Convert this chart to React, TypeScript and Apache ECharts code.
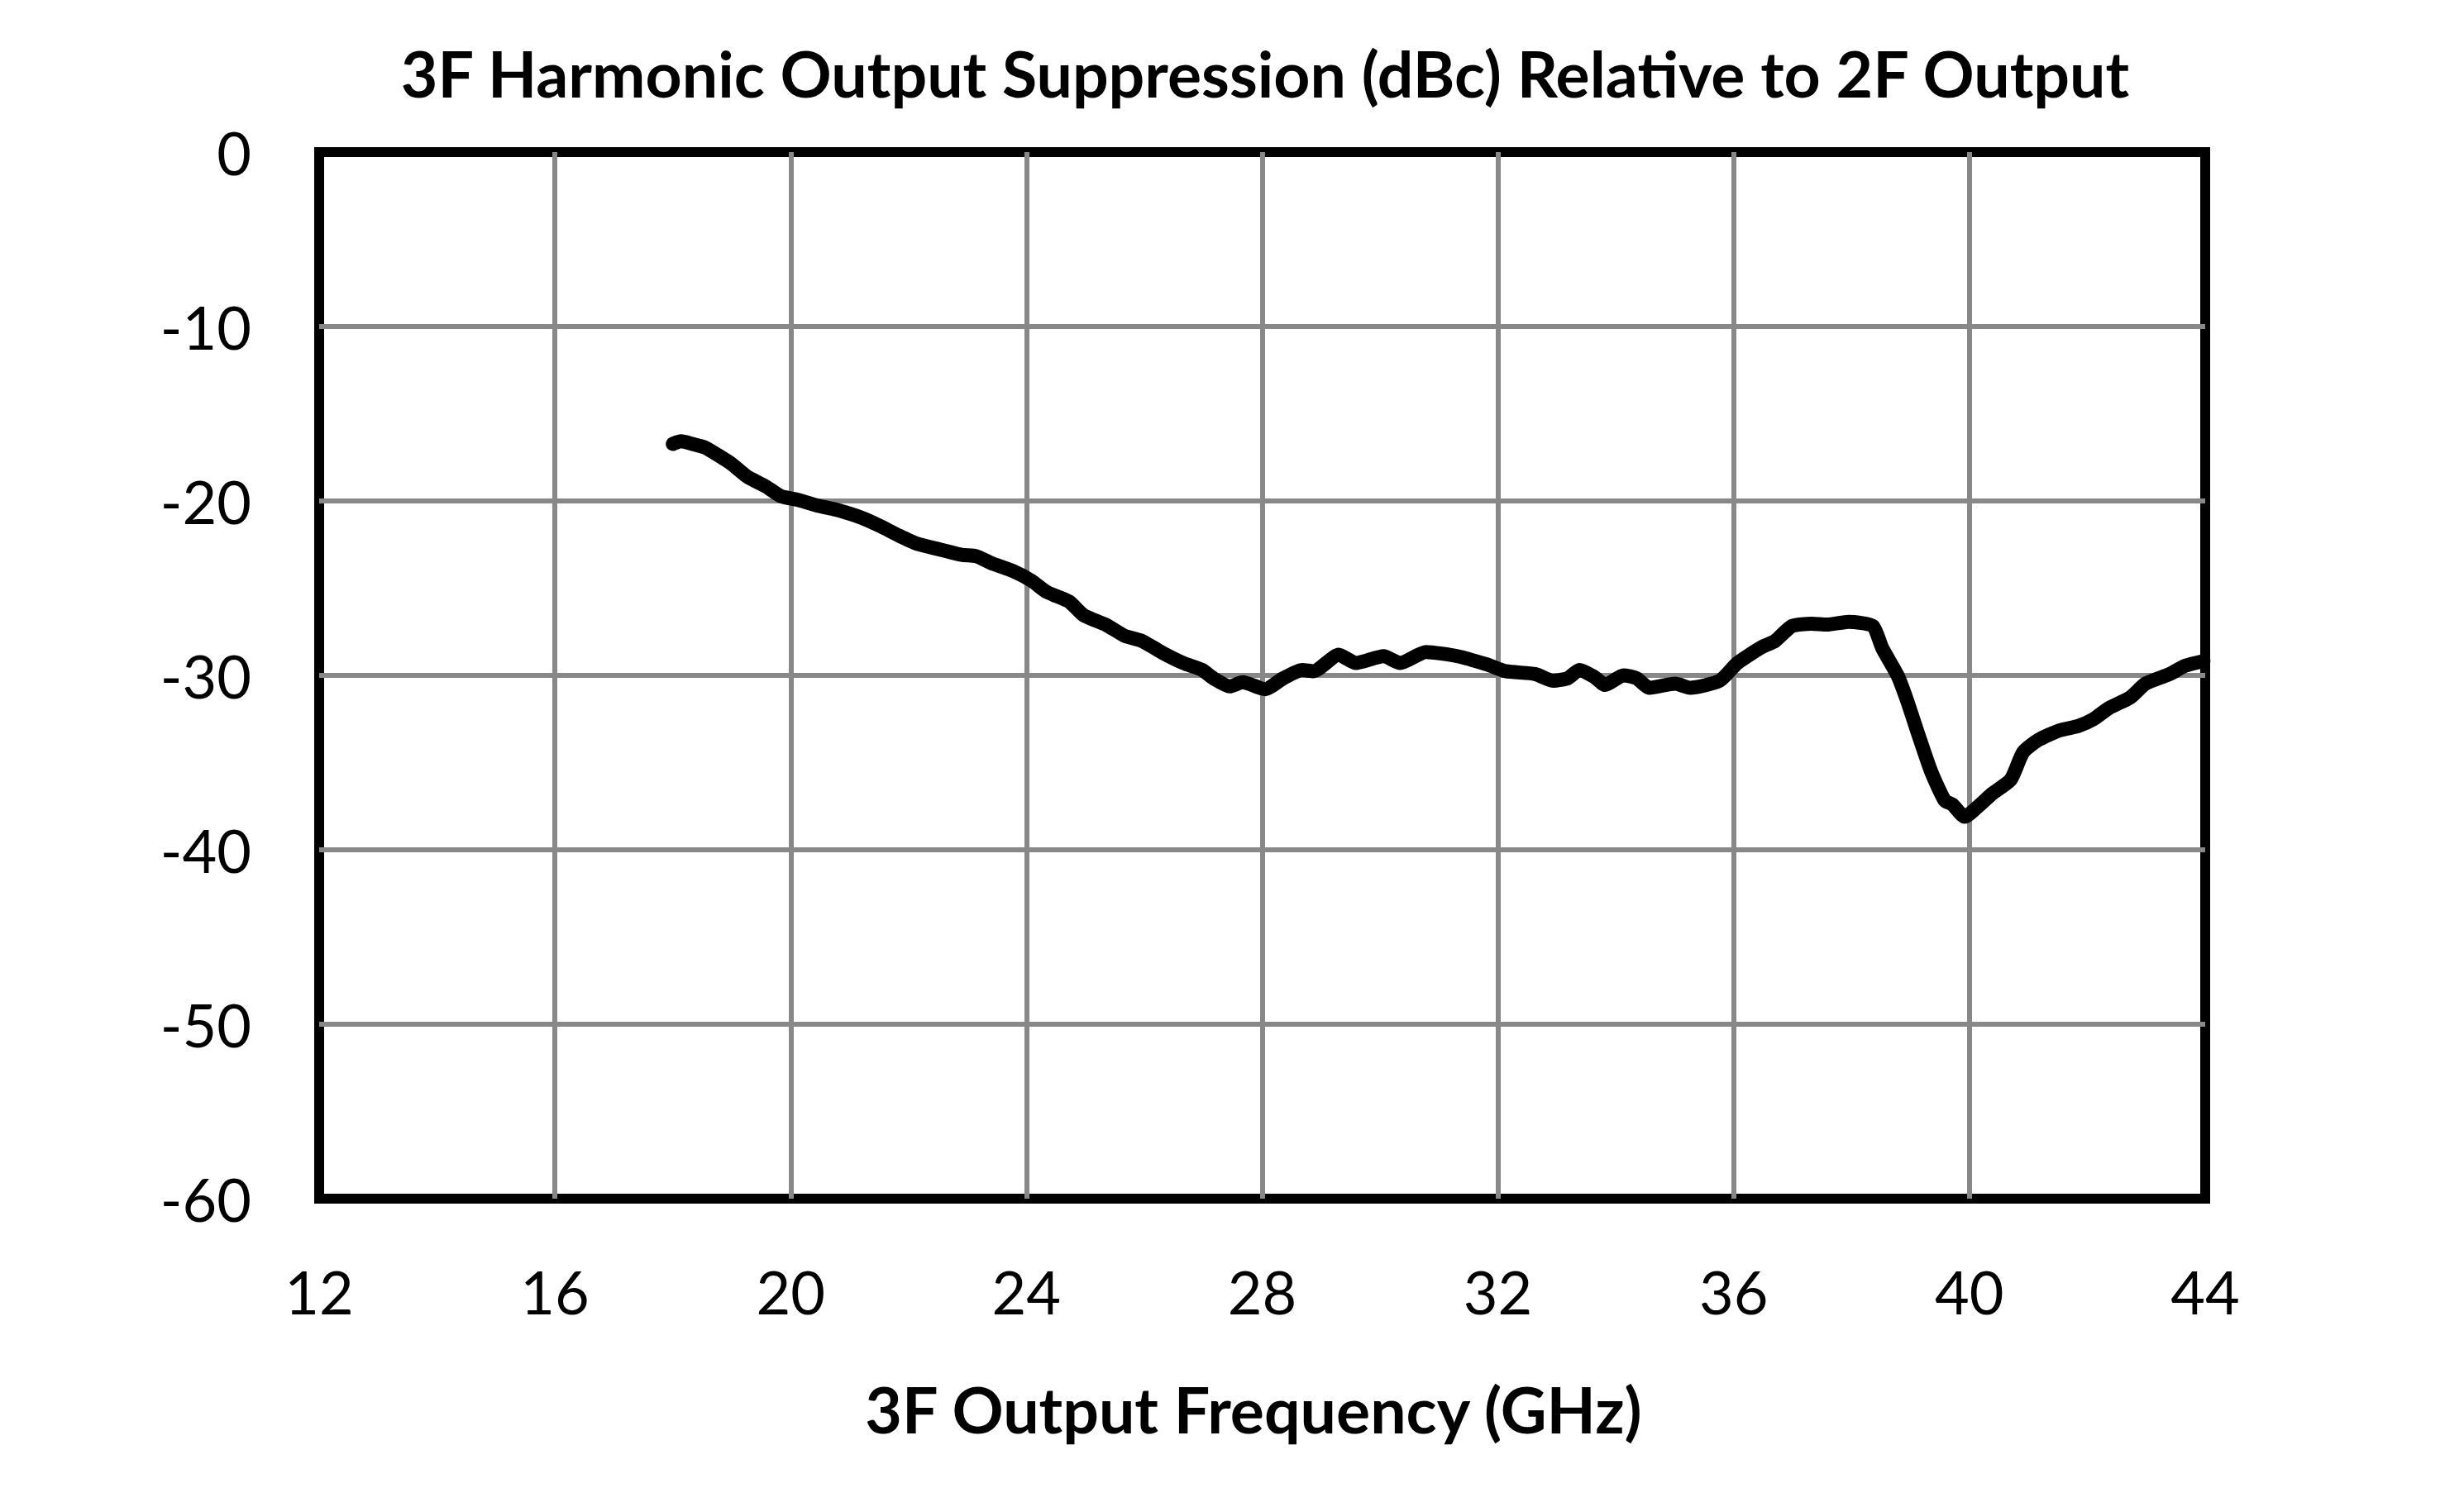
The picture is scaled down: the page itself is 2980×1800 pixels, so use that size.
import { useEffect, useRef } from 'react'
import * as echarts from 'echarts'

// 3F output frequency (GHz)
const freq = [
  18.0, 18.14, 18.33, 18.55, 18.76, 19.0, 19.27, 19.58, 19.83, 20.14,
  20.46, 20.77, 21.21, 21.52, 21.84, 22.15, 22.53, 22.9, 23.15, 23.4,
  23.78, 24.09, 24.34, 24.72, 24.97, 25.35, 25.66, 25.97, 26.29, 26.66,
  26.98, 27.17, 27.45, 27.67, 28.05, 28.36, 28.68, 28.87, 29.3, 29.59,
  30.06, 30.34, 30.78, 31.31, 31.81, 32.13, 32.63, 32.94, 33.19, 33.38,
  33.63, 33.82, 34.13, 34.35, 34.57, 35.01, 35.26, 35.76, 36.05, 36.23,
  36.49, 36.7, 36.99, 37.32, 37.58, 37.95, 38.36, 38.52, 38.78, 38.94,
  39.14, 39.35, 39.58, 39.71, 39.92, 40.13, 40.39, 40.7, 40.91, 41.17,
  41.53, 41.84, 42.1, 42.36, 42.73, 42.99, 43.4, 43.66, 43.97
]

// 3F suppression relative to 2F (dBc)
const suppression = [
  -16.73, -16.58, -16.73, -16.94, -17.36, -17.88, -18.62, -19.17, -19.72, -19.95,
  -20.27, -20.5, -20.97, -21.44, -21.99, -22.46, -22.78, -23.09, -23.17, -23.56,
  -24.03, -24.58, -25.21, -25.76, -26.55, -27.1, -27.72, -28.04, -28.67, -29.29,
  -29.69, -30.16, -30.63, -30.39, -30.79, -30.16, -29.69, -29.76, -28.82, -29.29,
  -28.9, -29.29, -28.66, -28.9, -29.37, -29.76, -29.92, -30.31, -30.16, -29.69,
  -30.08, -30.55, -30.0, -30.16, -30.71, -30.47, -30.71, -30.31, -29.33, -28.9,
  -28.35, -28.03, -27.17, -27.04, -27.09, -26.93, -27.17, -28.43, -30.0, -31.42,
  -33.46, -35.51, -37.17, -37.4, -38.11, -37.56, -36.77, -35.98, -34.41, -33.7,
  -33.15, -32.91, -32.52, -31.89, -31.26, -30.47, -29.92, -29.45, -29.18
]

const chartTitle = '3F Harmonic Output Suppression (dBc) Relative to 2F Output'
const xTitle = '3F Output Frequency (GHz)'

const FONT = 'Lato, "Noto Sans", sans-serif'

export default function App() {
  const chartRef = useRef<HTMLDivElement>(null)

  useEffect(() => {
    if (!chartRef.current) return
    document.body.style.margin = '0'

    const chart = echarts.init(chartRef.current, null, { renderer: 'svg' })

    const option: echarts.EChartsOption = {
      animation: false,
      backgroundColor: '#ffffff',
      grid: {
        left: 386,
        right: 313,
        top: 184,
        bottom: 350,
        show: true,
        borderColor: '#000000',
        borderWidth: 12,
        backgroundColor: 'transparent'
      },
      graphic: [
        {
          type: 'text',
          x: 1530,
          y: 88,
          z: 10,
          style: {
            text: chartTitle,
            font: `bold 77px ${FONT}`,
            fill: '#000000',
            textAlign: 'center',
            textVerticalAlign: 'middle'
          }
        },
        {
          type: 'text',
          x: 1516,
          y: 1704,
          z: 10,
          style: {
            text: xTitle,
            font: `bold 77px ${FONT}`,
            fill: '#000000',
            textAlign: 'center',
            textVerticalAlign: 'middle'
          }
        }
      ],
      xAxis: {
        type: 'value',
        min: 12,
        max: 44,
        interval: 4,
        axisLine: { show: false },
        axisTick: { show: false },
        axisLabel: {
          color: '#000000',
          fontFamily: FONT,
          fontSize: 72,
          margin: 76
        },
        splitLine: {
          show: true,
          showMinLine: false,
          showMaxLine: false,
          lineStyle: { color: '#888888', width: 6 }
        }
      },
      yAxis: {
        type: 'value',
        min: -60,
        max: 0,
        interval: 10,
        axisLine: { show: false },
        axisTick: { show: false },
        axisLabel: {
          color: '#000000',
          fontFamily: FONT,
          fontSize: 72,
          margin: 82
        },
        splitLine: {
          show: true,
          showMinLine: false,
          showMaxLine: false,
          lineStyle: { color: '#888888', width: 6 }
        }
      },
      series: [
        {
          type: 'line',
          data: freq.map((f, i) => [f, suppression[i]]),
          showSymbol: false,
          smooth: 0.2,
          lineStyle: {
            color: '#000000',
            width: 17,
            cap: 'round',
            join: 'round'
          },
          z: 5
        }
      ]
    }

    chart.setOption(option)

    return () => {
      chart.dispose()
    }
  }, [])

  return <div ref={chartRef} style={{ width: 2980, height: 1800 }} />
}
